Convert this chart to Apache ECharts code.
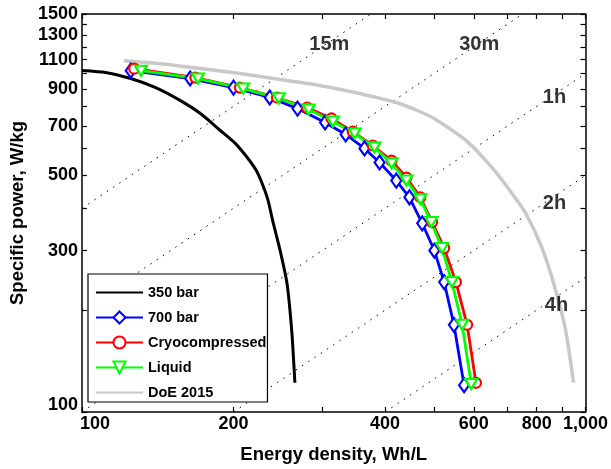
<!DOCTYPE html>
<html><head><meta charset="utf-8">
<script src="https://cdn.jsdelivr.net/npm/echarts@6/dist/echarts.min.js"></script>
<style>html,body{margin:0;padding:0;background:#fff}#c{width:611px;height:469px}</style>
</head><body><div id="c"></div>
<script>
// Axis ticks and labels
const xTickValues = [100, 200, 300, 400, 500, 600, 700, 800, 900, 1000];
const xTickLabels = [100, 200, 400, 600, 800, 1000];
const yTickValues = [100, 200, 300, 400, 500, 600, 700, 800, 900, 1000, 1100, 1200, 1300, 1400, 1500];
const yTickLabels = [100, 300, 500, 700, 900, 1100, 1300, 1500];

// Series: energy density (Wh/L) and specific power (W/kg)
const bar350E = [100, 111.5, 125, 140.1, 156.9, 171.9, 188.3, 201.6, 212.9, 221.8, 227.9, 234.2, 239.6, 247.4, 255.4, 261.2, 264.8];
const bar350P = [1021, 1007, 967, 909, 832, 762, 679, 622, 565, 518, 474, 422, 364, 301, 240, 171, 122];

const bar700E = [125, 164, 200, 236, 268, 304, 334, 364, 390, 421, 447, 474, 501, 524, 548, 574];
const bar700P = [1020, 967, 909, 850, 788, 717, 661, 601, 546, 483, 431, 361, 300, 242, 181, 120];

const cryoE = [127, 168, 206, 244, 280, 313, 345, 378, 412, 441, 470, 496, 524, 553, 582, 606];
const cryoP = [1034, 973, 909, 850, 794, 737, 674, 613, 553, 493, 431, 364, 305, 242, 181, 122];

const liquidE = [131, 170, 209, 246, 282, 315, 348, 381, 412, 441, 470, 494, 519, 543, 569, 593];
const liquidP = [1020, 967, 903, 845, 783, 722, 665, 605, 543, 483, 425, 364, 305, 242, 181, 121];

const doeE = [121.1, 143.3, 171.9, 206.2, 247.4, 296.7, 355.9, 426.9, 496.3, 579.3, 652, 714.2, 761.2, 818.5, 864.5, 912.9, 947.1];
const doeP = [1092, 1070, 1035, 1000, 960, 922, 873, 816, 742, 634, 528, 443, 386, 307, 240, 175, 122];

// Constant discharge-time reference lines (end points)
const timeNames = ['15m', '30m', '1h', '2h', '4h'];
const timeLineStart = [[100, 400], [100, 200], [100, 100], [200, 100], [400, 100]];
const timeLineEnd = [[375, 1500], [750, 1500], [1000, 1000], [1000, 500], [1000, 250]];
const timeLabelPos = [[310, 1218], [615, 1218], [868, 850], [868, 414], [876, 207]];

const zip = (a, b) => a.map((v, i) => [v, b[i]]);
const FONT = 'Liberation Sans';
const tickFont = { fontFamily: FONT, fontWeight: 'bold', fontSize: 18, color: '#000' };

function helperX(pos, showLabel) {
  return {
    type: 'value', position: pos, min: 2, max: 3, gridIndex: 0,
    name: showLabel ? 'Energy density, Wh/L' : '',
    nameLocation: 'middle', nameGap: 33,
    nameTextStyle: { fontFamily: FONT, fontWeight: 'bold', fontSize: 18.5, color: '#000' },
    axisLine: { show: true, onZero: false, lineStyle: { color: '#000', width: 1.5 } },
    axisTick: { show: true, inside: true, length: 5, customValues: xTickValues.map(Math.log10), lineStyle: { color: '#000', width: 1.2 } },
    axisLabel: Object.assign({ show: showLabel, margin: 3, customValues: xTickLabels.map(Math.log10),
      formatter: v => {
        const t = Math.round(Math.pow(10, v));
        return (t === xTickLabels[0] ? '{m|' : '{n|') + t.toLocaleString('en-US') + '}';
      },
      rich: { n: Object.assign({}, tickFont), m: Object.assign({ padding: [0, 0, 0, 26] }, tickFont) }
    }, tickFont),
    splitLine: { show: false }
  };
}
function helperY(pos, showLabel) {
  const lmax = Math.log10(1500);
  return {
    type: 'value', position: pos, min: 2, max: lmax, gridIndex: 0,
    name: showLabel ? 'Specific power, W/kg' : '',
    nameLocation: 'middle', nameGap: 52, nameRotate: 90,
    nameTextStyle: { fontFamily: FONT, fontWeight: 'bold', fontSize: 18.5, color: '#000' },
    axisLine: { show: true, onZero: false, lineStyle: { color: '#000', width: 1.5 } },
    axisTick: { show: true, inside: true, length: 5, customValues: yTickValues.map(Math.log10), lineStyle: { color: '#000', width: 1.2 } },
    axisLabel: Object.assign({ show: showLabel, margin: 4, customValues: yTickLabels.map(Math.log10),
      formatter: v => {
        const t = Math.round(Math.pow(10, v));
        return (t === yTickLabels[0] ? '{m|' : '{n|') + t + '}';
      },
      rich: { n: Object.assign({}, tickFont), m: Object.assign({ padding: [0, 0, 14, 0] }, tickFont) }
    }, tickFont),
    splitLine: { show: false }
  };
}

const markerSeries = (name, E, P, color, symbol, size, rotate) => ({
  name, type: 'line', xAxisIndex: 0, yAxisIndex: 0, data: zip(E, P),
  symbol, symbolSize: size, symbolRotate: rotate || 0, showSymbol: true,
  lineStyle: { color, width: 2.8 },
  itemStyle: { color: '#fff', borderColor: color, borderWidth: 2.2 },
  z: 5
});

const series = [];
timeNames.forEach((n, i) => {
  series.push({
    name: 'iso' + n, type: 'line', xAxisIndex: 0, yAxisIndex: 0,
    data: [timeLineStart[i], timeLineEnd[i]], symbol: 'none', silent: true,
    lineStyle: { color: '#000', width: 1, type: [1.5, 6] }, z: 1
  });
});
series.push({
  name: 'timeLabels', type: 'scatter', xAxisIndex: 0, yAxisIndex: 0,
  data: timeLabelPos.map((p, i) => ({ value: p, name: timeNames[i] })),
  symbolSize: 1, itemStyle: { color: 'rgba(0,0,0,0)' }, silent: true,
  label: { show: true, position: 'inside', formatter: p => p.name,
    fontFamily: FONT, fontWeight: 'bold', fontSize: 20, color: '#000' }, z: 10
});
series.push({
  name: 'DoE 2015', type: 'line', xAxisIndex: 0, yAxisIndex: 0, data: zip(doeE, doeP),
  symbol: 'none', smooth: 0.2, lineStyle: { color: '#c8c8c8', width: 3.5 },
  itemStyle: { color: 'rgba(0,0,0,0)', borderWidth: 0 }, z: 3
});
series.push({
  name: '350 bar', type: 'line', xAxisIndex: 0, yAxisIndex: 0, data: zip(bar350E, bar350P),
  symbol: 'none', smooth: 0.2, lineStyle: { color: '#000', width: 3 },
  itemStyle: { color: 'rgba(0,0,0,0)', borderWidth: 0 }, z: 4
});
series.push(markerSeries('700 bar', bar700E, bar700P, '#0000ff', 'diamond', [10, 14], 0));
series.push(markerSeries('Cryocompressed', cryoE, cryoP, '#ff0000', 'circle', 10, 0));
series.push(markerSeries('Liquid', liquidE, liquidP, '#00ff00', 'triangle', [12, 10], 180));

const chart = echarts.init(document.getElementById('c'), null, { renderer: 'canvas' });
chart.setOption({
  animation: false,
  backgroundColor: '#fff',
  grid: { left: 81, right: 24, top: 14, bottom: 57, containLabel: false },
  xAxis: [
    { type: 'log', logBase: 10, min: 100, max: 1000, show: false },
    helperX('bottom', true),
    helperX('top', false)
  ],
  yAxis: [
    { type: 'log', logBase: 10, min: 100, max: 1500, show: false },
    helperY('left', true),
    helperY('right', false)
  ],
  legend: {
    orient: 'vertical', left: 88, top: 274,
    padding: [11, 1, 2, 7], itemGap: 10, itemWidth: 47, itemHeight: 15,
    backgroundColor: '#fff', borderColor: '#000', borderWidth: 1.2, borderRadius: 0,
    textStyle: { fontFamily: FONT, fontWeight: 'bold', fontSize: 14.5, color: '#000' },
    data: ['350 bar', '700 bar', 'Cryocompressed', 'Liquid', 'DoE 2015'],
    selectedMode: false
  },
  series
});
</script></body></html>
